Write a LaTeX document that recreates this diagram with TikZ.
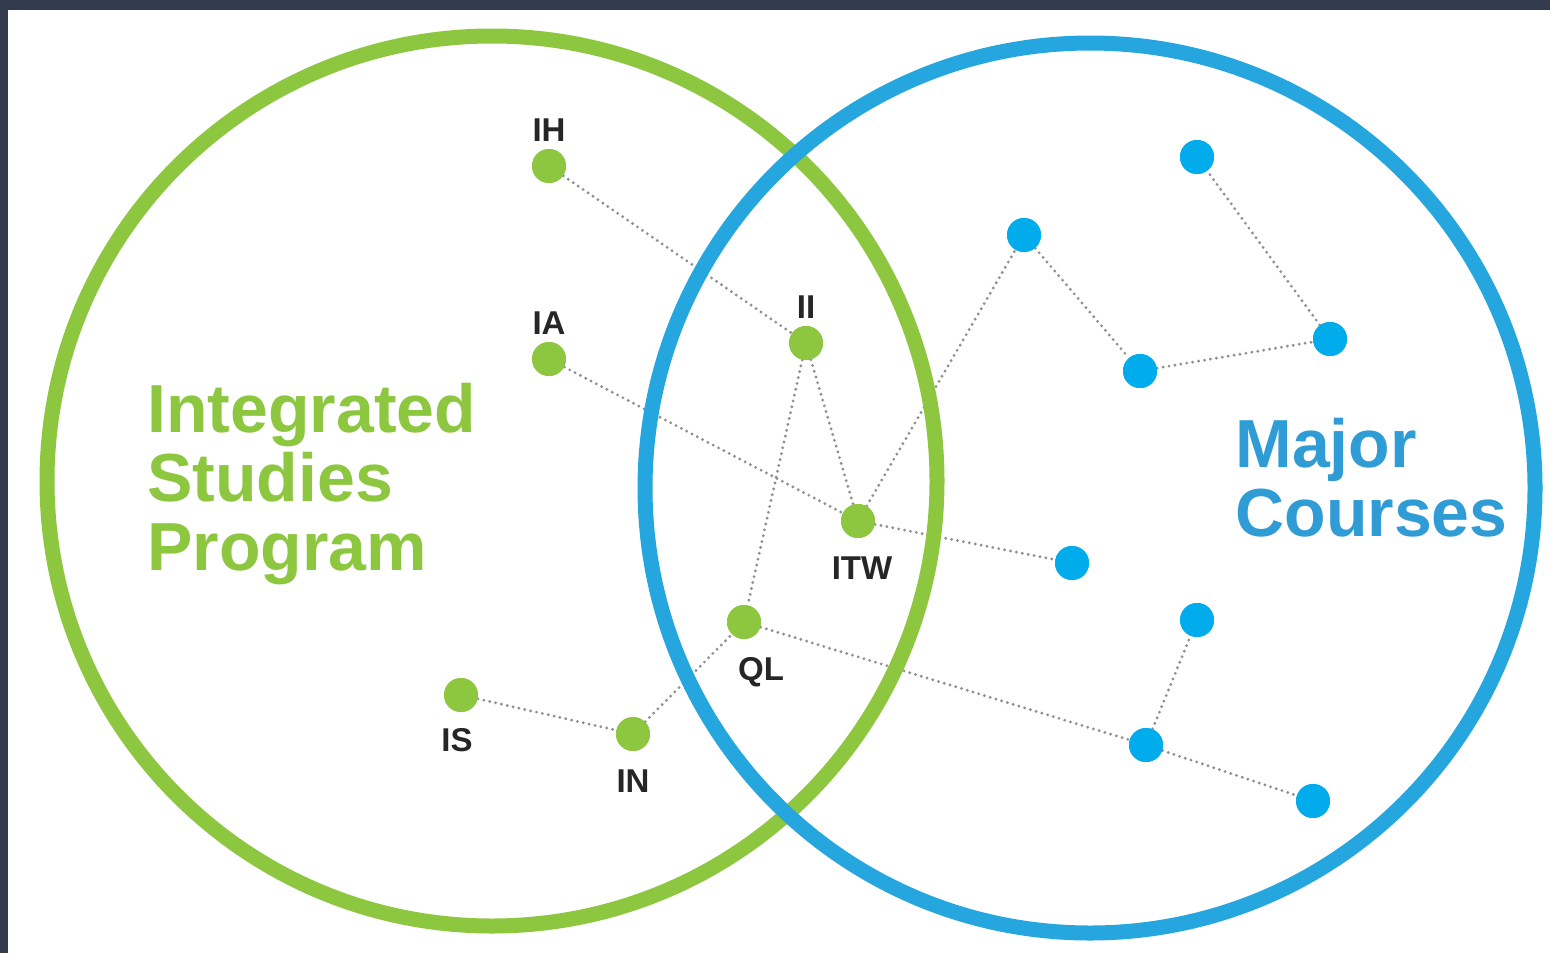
\documentclass[tikz,border=0pt]{standalone}
\usepackage{fontspec}
\setmainfont{Liberation Sans}
\usepackage{tikz}
\usetikzlibrary{positioning}
\usepackage{xcolor}
\definecolor{isgreen}{RGB}{141,198,63}
\definecolor{mcblue}{RGB}{38,166,222}
\definecolor{mcdotblue}{RGB}{0,172,236}
\definecolor{mctext}{RGB}{48,156,214}
\definecolor{linkgray}{RGB}{145,145,145}
\definecolor{frame}{RGB}{50,60,78}
\tikzstyle{ring} = [circle, line width=7.5pt, minimum size=445pt, inner sep=0pt]
\tikzstyle{isdot} = [circle, fill=isgreen, minimum size=17pt, inner sep=0pt]
\tikzstyle{mcdot} = [circle, fill=mcdotblue, minimum size=17pt, inner sep=0pt]
\tikzstyle{link} = [line width=1.6pt, color=linkgray, line cap=round, dash pattern=on 0pt off 3pt]
\tikzstyle{lbl} = [font=\bfseries\fontsize{16.5}{18}\selectfont, text=black!85, inner sep=0pt]
\tikzstyle{title} = [font=\bfseries\fontsize{34}{34.5}\selectfont, align=left, anchor=north west, inner sep=0pt]

\begin{document}
\begin{tikzpicture}[x=0.5pt, y=-0.5pt]
\useasboundingbox (0,0) rectangle (1550,953);
\fill[frame] (0,0) rectangle (1550,953);
\fill[white] (8,10) rectangle (1550,953);

% Integrated studies courses
\node (ih) [isdot] at (549,166) {};
\node (ia) [isdot] at (549,359) {};
\node (ii) [isdot] at (806,343) {};
\node (itw) [isdot] at (858,521) {};
\node (ql) [isdot] at (744,622) {};
\node (is) [isdot] at (461,695) {};
\node (in) [isdot] at (633,734) {};

% Major courses
\node (m1) [mcdot] at (1197,157) {};
\node (m2) [mcdot] at (1024,235) {};
\node (m3) [mcdot] at (1330,339) {};
\node (m4) [mcdot] at (1140,371) {};
\node (m5) [mcdot] at (1072,563) {};
\node (m6) [mcdot] at (1197,620) {};
\node (m7) [mcdot] at (1146,745) {};
\node (m8) [mcdot] at (1313,801) {};

% Dotted links
\draw[link] (ih) -- (ii);
\draw[link] (ia) -- (itw);
\draw[link] (ii) -- (itw);
\draw[link] (ii) -- (ql);
\draw[link] (itw) -- (m5);
\draw[link] (itw) -- (m2);
\draw[link] (m2) -- (m4);
\draw[link] (m4) -- (m3);
\draw[link] (m3) -- (m1);
\draw[link] (ql) -- (m7);
\draw[link] (m7) -- (m8);
\draw[link] (m7) -- (m6);
\draw[link] (is) -- (in);
\draw[link] (in) -- (ql);

% The two programs
\node (isp) [ring, draw=isgreen] at (492,481) {};
\node (mcp) [ring, draw=mcblue] at (1090,488) {};

% Dots again over the rings
\foreach \d in {ih,ia,ii,itw,ql,is,in}
  \fill[isgreen] (\d) circle (8.5pt);
\foreach \d in {m1,m2,m3,m4,m5,m6,m7,m8}
  \fill[mcdotblue] (\d) circle (8.5pt);

% Course labels
\node (ih-t) [lbl, above=3.5pt of ih] {IH};
\node (ia-t) [lbl, above=3.5pt of ia] {IA};
\node (ii-t) [lbl, above=3.5pt of ii] {II};
\node (itw-t) [lbl, below=9pt of itw, xshift=2pt] {ITW};
\node (ql-t) [lbl, below=9pt of ql, xshift=8.5pt] {QL};
\node (is-t) [lbl, below=8pt of is, xshift=-2pt] {IS};
\node (in-t) [lbl, below=9pt of in] {IN};

% Titles
\node (isp-t) [title, text=isgreen] at (147,383) {Integrated\\Studies\\Program};
\node (mcp-t) [title, text=mctext] at (1235,418) {Major\\Courses};
\end{tikzpicture}
\end{document}
